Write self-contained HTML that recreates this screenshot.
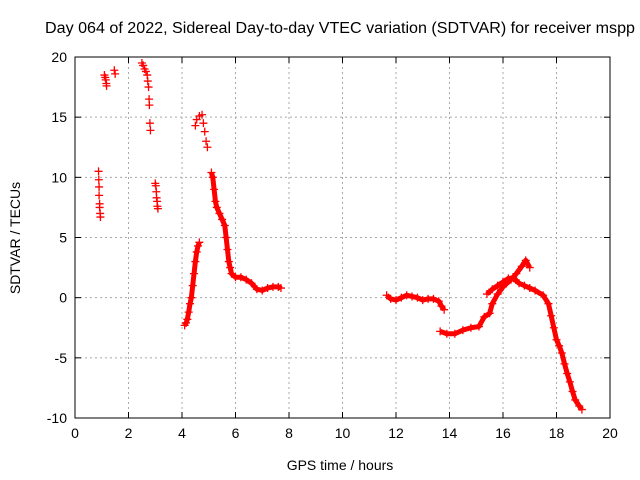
<!DOCTYPE html>
<html><head><meta charset="utf-8"><style>
body{margin:0;background:#fff;}
svg{display:block;font-family:"Liberation Sans",sans-serif;}
</style></head><body>
<svg id="chart" width="640" height="480">
<text x="340" y="33" text-anchor="middle" font-size="15.5" textLength="590" lengthAdjust="spacingAndGlyphs">Day 064 of 2022, Sidereal Day-to-day VTEC variation (SDTVAR) for receiver mspp</text>
<text x="340" y="470" text-anchor="middle" font-size="14">GPS time / hours</text>
<text transform="translate(20,238) rotate(-90)" text-anchor="middle" font-size="14">SDTVAR / TECUs</text>
<g id="grid"></g><g id="ticks"></g><g id="marks"></g>
<rect x="75" y="57" width="535" height="361" fill="none" stroke="#000" stroke-width="1"/>
</svg>
<script>
const xTicks=[0,2,4,6,8,10,12,14,16,18,20];
const yTicks=[-10,-5,0,5,10,15,20];
const segA=[[0.88,10.5],[0.89,9.8],[0.9,9.2],[0.9,8.5],[0.92,7.8],[0.92,7.5],[0.94,7.0],[0.95,6.7]];
const segB=[[1.1,18.5],[1.13,18.3],[1.15,18.1],[1.17,17.8],[1.18,17.6]];
const segC=[[1.47,18.9],[1.5,18.6]];
const segD=[[2.5,19.5],[2.55,19.3],[2.6,19.0],[2.65,18.8],[2.7,18.5],[2.72,18.0],[2.75,17.5],[2.77,16.5],[2.78,16.0],[2.8,14.5],[2.82,13.9]];
const segE=[[3.0,9.5],[3.02,9.3],[3.04,8.8],[3.05,8.3],[3.07,8.0],[3.08,7.6],[3.1,7.4]];
const segF=[[4.1,-2.3],[4.15,-2.1],[4.2,-1.8],[4.25,-1.2],[4.3,-0.5],[4.35,0],[4.4,1],[4.45,2],[4.5,3],[4.55,3.8],[4.6,4.3],[4.65,4.6]];
const segG=[[4.5,14.3],[4.55,14.8],[4.65,15.1],[4.75,15.2],[4.8,14.5],[4.85,13.8],[4.9,13.0],[4.95,12.5]];
const segH=[[5.1,10.4],[5.15,10.0],[5.2,9],[5.25,8],[5.3,7.5],[5.4,7],[5.5,6.5],[5.6,6],[5.65,5],[5.7,4],[5.75,3],[5.8,2.5],[5.85,2],[6.0,1.7],[6.2,1.7],[6.4,1.5],[6.6,1.2],[6.8,0.7],[7.0,0.6],[7.2,0.8],[7.4,0.9],[7.6,0.9],[7.7,0.8]];
const segI=[[11.65,0.2],[11.8,-0.1],[12.0,-0.2],[12.2,0],[12.4,0.2],[12.6,0.1],[12.8,0],[13.0,-0.2],[13.2,-0.1],[13.4,-0.1],[13.6,-0.3],[13.7,-0.7],[13.8,-1.0]];
const segJ=[[13.65,-2.8],[13.9,-3.0],[14.2,-3.0],[14.5,-2.7],[14.8,-2.5],[15.1,-2.4],[15.3,-1.6],[15.5,-1.3],[15.6,-0.5],[15.8,0.3],[16.0,0.9],[16.3,1.5],[16.5,2.0],[16.7,2.6],[16.85,3.1],[17.0,2.5]];
const segK=[[15.4,0.3],[15.6,0.7],[15.8,1.0],[16.0,1.3],[16.2,1.6],[16.4,1.6],[16.6,1.2],[16.8,1.0],[17.0,0.8],[17.2,0.6],[17.5,0.2],[17.7,-0.5],[17.8,-1.5],[17.9,-2.5],[18.0,-3.5],[18.1,-4.0],[18.2,-4.6],[18.3,-5.5],[18.4,-6.3],[18.5,-7.0],[18.6,-7.8],[18.7,-8.5],[18.85,-9.0],[18.95,-9.3]];
const series=[segA,segB,segC,segD,segE,segF,segG,segH,segI,segJ,segK];
const dense=[false,false,false,false,false,true,false,true,true,true,true];
const X0=75,X1=610,Y0=418,Y1=57;
const sx=v=>X0+(v-0)/(20-0)*(X1-X0);
const sy=v=>Y0-(v+10)/(30)*(Y0-Y1);
const NS="http://www.w3.org/2000/svg";
function mk(t,a,p){const e=document.createElementNS(NS,t);for(const k in a)e.setAttribute(k,a[k]);p.appendChild(e);return e;}
const grid=document.getElementById('grid'),ticks=document.getElementById('ticks'),marks=document.getElementById('marks');
xTicks.forEach(t=>{const x=sx(t);
 if(t>0&&t<20){const g=mk('line',{x1:x,x2:x,y1:Y1,y2:Y0,stroke:'#a8a8a8','stroke-dasharray':'2,3'},grid);
 
 }
 mk('line',{x1:x,x2:x,y1:Y0,y2:Y0-6,stroke:'#000'},ticks);
 mk('line',{x1:x,x2:x,y1:Y1,y2:Y1+6,stroke:'#000'},ticks);
 const l=mk('text',{x:x,y:Y0+20,'text-anchor':'middle','font-size':'14'},ticks);l.textContent=t;
 
 });
yTicks.forEach(t=>{const y=sy(t);
 if(t>-10&&t<20){const g=mk('line',{x1:X0,x2:X1,y1:y,y2:y,stroke:'#a8a8a8','stroke-dasharray':'2,3'},grid);
 
 }
 mk('line',{x1:X0,x2:X0+6,y1:y,y2:y,stroke:'#000'},ticks);
 mk('line',{x1:X1,x2:X1-6,y1:y,y2:y,stroke:'#000'},ticks);
 const l=mk('text',{x:X0-8,y:y+5,'text-anchor':'end','font-size':'14'},ticks);l.textContent=t;
 
 });
series.forEach((s,i)=>{
 const g=mk('g',{},marks);
 
 
 if(dense[i]){mk('polyline',{points:s.map(p=>sx(p[0])+','+sy(p[1])).join(' '),fill:'none',stroke:'#f00','stroke-width':5,'stroke-linejoin':'round'},g);}
 s.forEach(p=>{const x=sx(p[0]),y=sy(p[1]);
  const m=mk('path',{d:`M${x-4},${y}H${x+4}M${x},${y-4}V${y+4}`,stroke:'#f00','stroke-width':1.3},g);
  
  });
});
</script>
</body></html>
